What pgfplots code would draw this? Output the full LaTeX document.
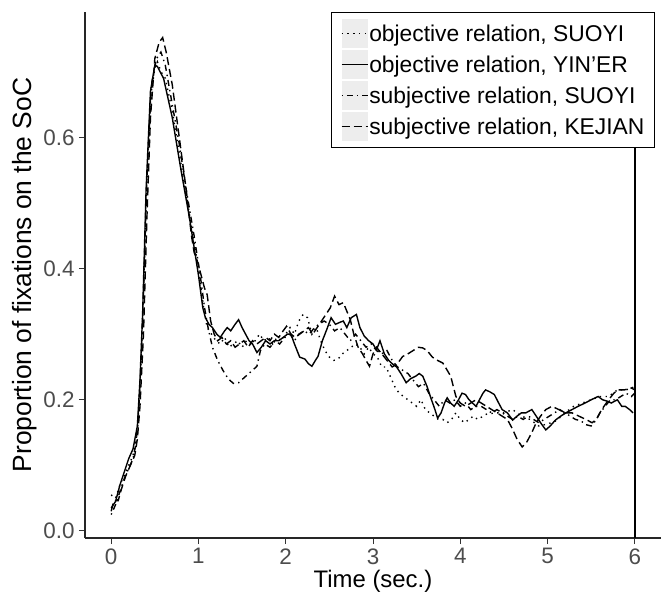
\documentclass[border=0pt]{standalone}
\usepackage{fontspec}
\setmainfont{Liberation Sans}
\usepackage{pgfplots}
\pgfplotsset{compat=1.18}
\begin{document}
\begin{tikzpicture}
\begin{axis}[
  at={(0,0)}, anchor=south west,
  scale only axis, width=576bp, height=526bp,
  xmin=-0.3, xmax=6.3, ymin=-0.0107, ymax=0.791,
  axis x line*=bottom, axis y line*=left,
  axis line style={-, line width=1.1bp, black!85},
  xtick={0,1,2,3,4,5,6}, ytick={0,0.2,0.4,0.6},
  yticklabel style={/pgf/number format/fixed, /pgf/number format/fixed zerofill, /pgf/number format/precision=1, xshift=-1bp},
  /pgf/number format/assume math mode=true,
  tick align=outside, major tick length=6bp,
  tick style={line width=1bp, black!80},
  ticklabel style={font=\fontsize{22.5}{25}\selectfont, text=black!70},
  xticklabel style={yshift=-1bp},
  xlabel={Time (sec.)}, ylabel={Proportion of fixations on the SoC},
  xlabel style={at={(axis description cs:0.5,-0.083)}, anchor=center, font=\fontsize{24}{28}\selectfont},
  ylabel style={at={(axis description cs:-0.104,0.5)}, anchor=center, font=\fontsize{26.5}{30}\selectfont},
  clip=false,
  legend cell align=left,
  legend style={at={(axis description cs:0.9896,1)}, anchor=north east,
    draw=black, line width=1.1bp, fill=white, inner xsep=9bp, inner ysep=8bp,
    font=\fontsize{22.9}{26}\selectfont,
    nodes={inner sep=1bp, text height=20bp, text depth=4bp}, row sep=5bp,
    /tikz/every even column/.append style={column sep=0bp}},
  legend image code/.code={
    \fill[black!7, draw=none, overlay] (0bp,-14.5bp) rectangle (26bp,14.5bp);
    \draw[#1, line width=1.4bp] (0bp,0bp) -- (26bp,0bp);
  },
]
% vertical line at 6 s
\addplot[black, line width=1.4bp, forget plot] coordinates {(6,-0.0107) (6,0.791)};
% objective relation, SUOYI (dotted)
\addplot[black, line width=1.4bp, dash pattern=on 1.4bp off 4.4bp] table {
0.00 0.055
0.05 0.05
0.10 0.07
0.15 0.085
0.20 0.10
0.25 0.115
0.30 0.15
0.33 0.22
0.36 0.32
0.40 0.50
0.45 0.66
0.50 0.705
0.53 0.715
0.57 0.70
0.62 0.69
0.70 0.64
0.80 0.56
0.90 0.48
1.00 0.40
1.06 0.34
1.10 0.31
1.15 0.30
1.20 0.29
1.25 0.285
1.30 0.295
1.35 0.28
1.40 0.285
1.45 0.29
1.50 0.28
1.55 0.29
1.60 0.285
1.65 0.29
1.70 0.30
1.75 0.29
1.80 0.295
1.85 0.285
1.90 0.295
1.95 0.29
2.00 0.30
2.05 0.31
2.10 0.30
2.15 0.32
2.20 0.33
2.25 0.325
2.30 0.30
2.35 0.31
2.40 0.29
2.45 0.275
2.50 0.265
2.55 0.26
2.60 0.262
2.65 0.27
2.70 0.275
2.75 0.28
2.80 0.285
2.85 0.28
2.90 0.27
2.95 0.28
3.00 0.27
3.05 0.265
3.10 0.25
3.15 0.25
3.20 0.235
3.25 0.22
3.30 0.21
3.35 0.205
3.40 0.20
3.45 0.195
3.50 0.19
3.55 0.20
3.60 0.185
3.65 0.18
3.70 0.175
3.75 0.17
3.80 0.17
3.85 0.165
3.90 0.17
3.95 0.18
4.00 0.17
4.05 0.165
4.10 0.17
4.15 0.175
4.20 0.17
4.30 0.178
4.40 0.18
4.50 0.18
4.60 0.185
4.70 0.175
4.80 0.17
4.90 0.16
5.00 0.163
5.10 0.168
5.20 0.18
5.30 0.19
5.40 0.195
5.50 0.20
5.60 0.205
5.70 0.205
5.80 0.215
5.90 0.215
6.00 0.22
};
\addlegendentry{objective relation, SUOYI}
% objective relation, YIN'ER (solid)
\addplot[black, line width=1.4bp, solid] table {
0.00 0.035
0.05 0.045
0.10 0.07
0.15 0.09
0.20 0.11
0.25 0.125
0.30 0.16
0.33 0.23
0.36 0.33
0.40 0.52
0.45 0.67
0.50 0.71
0.53 0.708
0.56 0.70
0.60 0.69
0.70 0.63
0.80 0.55
0.90 0.475
1.00 0.39
1.05 0.34
1.08 0.325
1.12 0.315
1.16 0.31
1.21 0.30
1.25 0.295
1.30 0.305
1.33 0.31
1.37 0.305
1.42 0.315
1.46 0.322
1.50 0.31
1.54 0.30
1.58 0.29
1.62 0.285
1.67 0.272
1.72 0.28
1.77 0.29
1.82 0.285
1.87 0.29
1.92 0.29
1.97 0.295
2.02 0.30
2.06 0.30
2.10 0.285
2.16 0.265
2.22 0.262
2.26 0.255
2.30 0.251
2.34 0.26
2.37 0.266
2.42 0.29
2.47 0.307
2.52 0.325
2.57 0.315
2.62 0.318
2.66 0.32
2.70 0.31
2.75 0.325
2.81 0.33
2.85 0.31
2.90 0.297
2.95 0.29
3.00 0.285
3.04 0.276
3.08 0.29
3.13 0.27
3.18 0.26
3.22 0.255
3.27 0.25
3.32 0.24
3.38 0.226
3.43 0.232
3.49 0.236
3.53 0.24
3.57 0.236
3.62 0.22
3.67 0.20
3.71 0.185
3.74 0.172
3.78 0.18
3.82 0.195
3.85 0.203
3.89 0.195
3.93 0.19
3.98 0.20
4.02 0.21
4.06 0.208
4.10 0.20
4.14 0.195
4.18 0.19
4.22 0.20
4.26 0.21
4.29 0.215
4.34 0.212
4.39 0.208
4.44 0.195
4.48 0.185
4.54 0.18
4.60 0.169
4.65 0.175
4.70 0.18
4.75 0.18
4.82 0.185
4.87 0.175
4.92 0.165
4.98 0.154
5.03 0.16
5.09 0.169
5.15 0.175
5.21 0.18
5.28 0.185
5.35 0.19
5.43 0.195
5.50 0.20
5.58 0.205
5.63 0.20
5.68 0.198
5.73 0.195
5.80 0.20
5.85 0.19
5.89 0.19
5.94 0.185
5.98 0.18
};
\addlegendentry{objective relation, YIN'ER}
% subjective relation, SUOYI (dot-dash)
\addplot[black, line width=1.4bp, dash pattern=on 1.4bp off 4bp on 6bp off 4bp] table {
0.00 0.025
0.05 0.04
0.10 0.06
0.15 0.08
0.20 0.095
0.25 0.11
0.28 0.13
0.31 0.17
0.34 0.25
0.37 0.36
0.41 0.54
0.46 0.68
0.52 0.72
0.57 0.73
0.62 0.71
0.70 0.65
0.78 0.59
0.86 0.52
0.95 0.45
1.02 0.39
1.07 0.34
1.11 0.31
1.16 0.28
1.22 0.26
1.28 0.245
1.34 0.232
1.40 0.225
1.46 0.226
1.51 0.232
1.56 0.238
1.62 0.245
1.67 0.251
1.71 0.275
1.76 0.285
1.82 0.28
1.88 0.29
1.93 0.285
1.99 0.295
2.05 0.30
2.10 0.29
2.15 0.30
2.21 0.305
2.27 0.30
2.33 0.31
2.38 0.315
2.44 0.32
2.50 0.315
2.56 0.305
2.62 0.31
2.68 0.30
2.74 0.29
2.80 0.30
2.86 0.29
2.92 0.28
2.98 0.285
3.04 0.275
3.10 0.27
3.16 0.275
3.22 0.26
3.28 0.25
3.34 0.245
3.40 0.24
3.46 0.23
3.52 0.22
3.58 0.225
3.64 0.21
3.70 0.20
3.76 0.19
3.82 0.20
3.88 0.195
3.94 0.20
4.00 0.19
4.06 0.195
4.12 0.185
4.18 0.19
4.24 0.19
4.30 0.185
4.36 0.18
4.42 0.185
4.48 0.18
4.54 0.175
4.60 0.17
4.66 0.175
4.72 0.17
4.78 0.175
4.84 0.17
4.90 0.165
4.96 0.17
5.02 0.175
5.08 0.18
5.14 0.185
5.20 0.18
5.26 0.175
5.32 0.17
5.38 0.168
5.44 0.162
5.50 0.16
5.55 0.168
5.60 0.18
5.66 0.19
5.72 0.20
5.78 0.20
5.84 0.205
5.90 0.21
5.96 0.205
6.00 0.21
};
\addlegendentry{subjective relation, SUOYI}
% subjective relation, KEJIAN (dashed)
\addplot[black, line width=1.4bp, dash pattern=on 8bp off 4bp] table {
0.00 0.03
0.03 0.046
0.08 0.046
0.12 0.065
0.17 0.085
0.22 0.10
0.27 0.115
0.30 0.14
0.33 0.19
0.37 0.30
0.41 0.48
0.45 0.63
0.50 0.72
0.55 0.745
0.59 0.752
0.63 0.73
0.70 0.68
0.78 0.60
0.86 0.52
0.92 0.45
0.95 0.425
0.99 0.41
1.03 0.39
1.07 0.37
1.10 0.36
1.14 0.32
1.18 0.30
1.22 0.29
1.27 0.295
1.32 0.285
1.37 0.29
1.42 0.28
1.47 0.285
1.52 0.29
1.57 0.28
1.62 0.29
1.67 0.285
1.72 0.29
1.77 0.295
1.82 0.29
1.87 0.30
1.92 0.295
1.97 0.305
2.01 0.312
2.06 0.30
2.11 0.295
2.16 0.30
2.21 0.305
2.26 0.31
2.31 0.30
2.36 0.31
2.41 0.32
2.46 0.33
2.51 0.34
2.56 0.358
2.61 0.345
2.66 0.348
2.70 0.335
2.74 0.322
2.78 0.30
2.83 0.28
2.88 0.27
2.92 0.26
2.96 0.251
3.00 0.27
3.04 0.28
3.10 0.27
3.16 0.26
3.22 0.25
3.28 0.255
3.34 0.266
3.40 0.27
3.46 0.275
3.52 0.28
3.57 0.279
3.62 0.275
3.68 0.265
3.74 0.26
3.80 0.256
3.85 0.245
3.89 0.236
3.95 0.205
4.00 0.195
4.06 0.19
4.12 0.195
4.18 0.20
4.24 0.195
4.30 0.19
4.36 0.185
4.42 0.18
4.48 0.175
4.54 0.17
4.60 0.155
4.65 0.14
4.71 0.128
4.76 0.135
4.82 0.15
4.87 0.165
4.92 0.175
4.98 0.185
5.05 0.19
5.13 0.185
5.20 0.18
5.28 0.18
5.36 0.175
5.44 0.17
5.51 0.165
5.56 0.17
5.62 0.185
5.70 0.20
5.76 0.21
5.81 0.215
5.88 0.215
5.96 0.218
6.00 0.215
};
\addlegendentry{subjective relation, KEJIAN}
\end{axis}
\pgfresetboundingbox
\path (-85bp,-58bp) rectangle (579bp,538bp);
\end{tikzpicture}
\end{document}
